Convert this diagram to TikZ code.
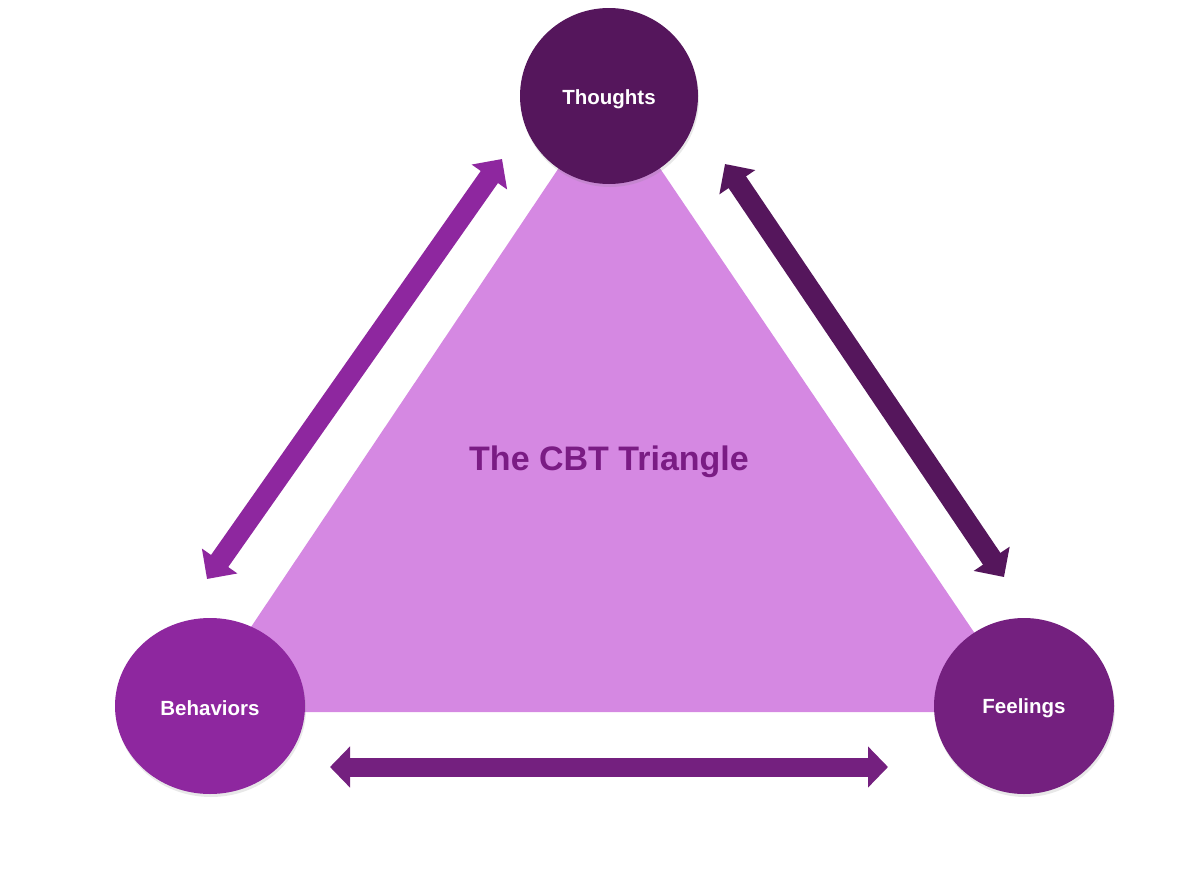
\documentclass[tikz,border=0pt]{standalone}
\usepackage{fontspec}
\setmainfont{Liberation Sans}
\usetikzlibrary{arrows.meta,shadows,shapes.geometric}
\definecolor{cThought}{HTML}{55165C}
\definecolor{cBehav}{HTML}{8E279F}
\definecolor{cFeel}{HTML}{74207F}
\definecolor{cTri}{HTML}{D588E2}
\definecolor{cTitle}{HTML}{7A1C84}
\tikzset{
  bubble/.style={ellipse, inner sep=0pt,
    drop shadow={opacity=0.18, shadow xshift=1pt, shadow yshift=-3pt}},
  bubbletext/.style={text=white, font=\bfseries\fontsize{20.5}{24}\selectfont},
  diagarrow/.style={line width=21pt, {Triangle[width=42pt,length=22pt]}-{Triangle[width=42pt,length=22pt]}},
  flatarrow/.style={line width=19pt, {Triangle[width=40pt,length=20pt]}-{Triangle[width=40pt,length=20pt]}},
}
\begin{document}
\begin{tikzpicture}[x=1pt,y=-1pt]
\useasboundingbox (0,0) rectangle (1196,878);
% triangle
\fill[cTri] (609,93) -- (194,712) -- (1028,712) -- cycle;
\node[font=\bfseries\fontsize{34}{40}\selectfont, text=cTitle] (title) at (609,462) {The CBT Triangle};
% nodes
\node[bubble, fill=cThought, minimum width=178pt, minimum height=176pt] (thoughts) at (609,96) {};
\node[bubble, fill=cBehav, minimum width=190pt, minimum height=176pt] (behaviors) at (210,706) {};
\node[bubble, fill=cFeel, minimum width=180pt, minimum height=176pt] (feelings) at (1024,706) {};
\node[bubbletext] (thoughtsL) at ([yshift=-3pt]thoughts.center) {Thoughts};
\node[bubbletext] (behaviorsL) at ([yshift=-2pt]behaviors.center) {Behaviors};
\node[bubbletext] (feelingsL) at ([yshift=-2pt]feelings.center) {Feelings};
% arrow ends
\coordinate (l1) at (207,579);
\coordinate (l2) at (502,159);
\coordinate (r1) at (725,164);
\coordinate (r2) at (1004,577);
\coordinate (b1) at (330,767);
\coordinate (b2) at (888,767);
\draw[diagarrow, cBehav] (l1) -- (l2);
\draw[diagarrow, cThought] (r1) -- (r2);
\draw[flatarrow, cFeel] (b1) -- (b2);
\end{tikzpicture}
\end{document}
